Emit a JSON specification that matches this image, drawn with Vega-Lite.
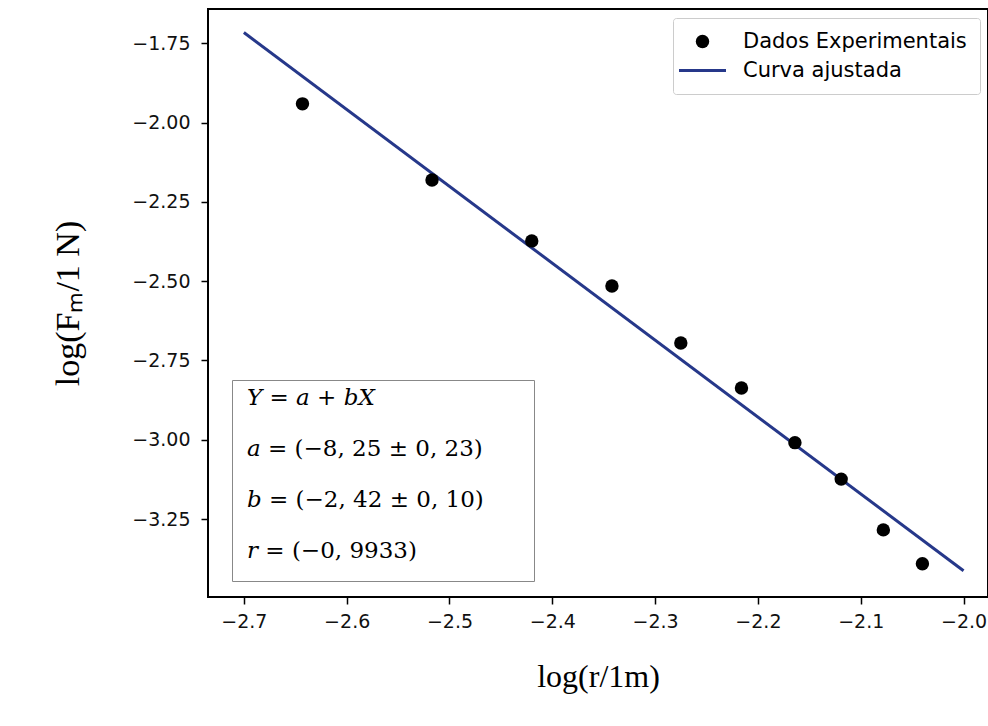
{
  "$schema": "https://vega.github.io/schema/vega-lite/v6.json",
  "width": 780,
  "height": 588,
  "autosize": {"type": "none"},
  "padding": {"left": 208, "top": 9, "right": 0, "bottom": 129},
  "background": "white",
  "config": {
    "view": {"stroke": "black", "strokeWidth": 2},
    "axis": {
      "domain": false,
      "grid": false,
      "tickColor": "black",
      "tickSize": 7,
      "tickWidth": 1.5,
      "labelFont": "DejaVu Sans",
      "labelFontSize": 19,
      "labelColor": "#111111",
      "titleFont": "Liberation Serif",
      "titleFontSize": 32,
      "titleFontWeight": "normal",
      "titleColor": "black"
    }
  },
  "layer": [
    {
      "data": {"values": [
        {"X": -2.7, "Y": -1.716, "series": "Curva ajustada"},
        {"X": -2.0, "Y": -3.413, "series": "Curva ajustada"}
      ]},
      "mark": {"type": "line", "strokeWidth": 3},
      "encoding": {
        "x": {"field": "X", "type": "quantitative",
              "scale": {"domain": [-2.7349, -1.9762], "nice": false, "zero": false},
              "axis": {"values": [-2.7, -2.6, -2.5, -2.4, -2.3, -2.2, -2.1, -2.0], "format": ".1f",
                       "labelPadding": 8, "title": "log(r/1m)", "titlePadding": 30}},
        "y": {"field": "Y", "type": "quantitative",
              "scale": {"domain": [-3.4956, -1.642], "nice": false, "zero": false},
              "axis": {"values": [-1.75, -2.0, -2.25, -2.5, -2.75, -3.0, -3.25], "format": ".2f",
                       "labelPadding": 11, "title": "log(Fₘ/1 N)", "titleFontSize": 34, "titlePadding": 46}},
        "color": {"field": "series", "type": "nominal",
                  "scale": {"domain": ["Dados Experimentais", "Curva ajustada"], "range": ["black", "#26388a"]},
                  "legend": {
                    "title": null, "orient": "none", "legendX": 465, "legendY": 9,
                    "padding": 13, "strokeColor": "#cccccc", "fillColor": "white", "cornerRadius": 3,
                    "labelFont": "DejaVu Sans", "labelFontSize": 21, "labelColor": "black", "labelLimit": 400,
                    "symbolSize": 2209, "symbolOffset": 6, "labelOffset": 30, "rowPadding": 7,
                    "encode": {"symbols": {"update": {
                      "shape": {"signal": "datum.value === 'Curva ajustada' ? 'stroke' : 'circle'"},
                      "size": {"signal": "datum.value === 'Curva ajustada' ? 2209 : 180"},
                      "stroke": {"signal": "datum.value === 'Curva ajustada' ? '#26388a' : 'black'"},
                      "strokeWidth": {"signal": "datum.value === 'Curva ajustada' ? 3 : 0"},
                      "fill": {"signal": "datum.value === 'Curva ajustada' ? 'transparent' : 'black'"},
                      "opacity": {"value": 1}
                    }}}
                  }}
      }
    },
    {
      "data": {"values": [
        {"X": -2.643, "Y": -1.941, "series": "Dados Experimentais"},
        {"X": -2.517, "Y": -2.181, "series": "Dados Experimentais"},
        {"X": -2.420, "Y": -2.373, "series": "Dados Experimentais"},
        {"X": -2.342, "Y": -2.515, "series": "Dados Experimentais"},
        {"X": -2.275, "Y": -2.695, "series": "Dados Experimentais"},
        {"X": -2.216, "Y": -2.837, "series": "Dados Experimentais"},
        {"X": -2.164, "Y": -3.009, "series": "Dados Experimentais"},
        {"X": -2.119, "Y": -3.124, "series": "Dados Experimentais"},
        {"X": -2.078, "Y": -3.284, "series": "Dados Experimentais"},
        {"X": -2.040, "Y": -3.391, "series": "Dados Experimentais"}
      ]},
      "mark": {"type": "point", "filled": true, "size": 180, "opacity": 1},
      "encoding": {
        "x": {"field": "X", "type": "quantitative"},
        "y": {"field": "Y", "type": "quantitative"},
        "color": {"field": "series", "type": "nominal"}
      }
    },
    {
      "data": {"values": [
        {"stat": "𝑌 = 𝑎 + 𝑏𝑋"},
        {"stat": "𝑎 = (−8, 25 ± 0, 23)"},
        {"stat": "𝑏 = (−2, 42 ± 0, 10)"},
        {"stat": "𝑟 = (−0, 9933)"}
      ]},
      "mark": {"type": "point", "opacity": 0},
      "encoding": {
        "shape": {"field": "stat", "type": "nominal",
                  "scale": {"domain": ["𝑌 = 𝑎 + 𝑏𝑋", "𝑎 = (−8, 25 ± 0, 23)", "𝑏 = (−2, 42 ± 0, 10)", "𝑟 = (−0, 9933)"],
                            "range": ["circle", "circle", "circle", "circle"]},
                  "legend": {
                    "title": "⠀⠀⠀⠀⠀⠀⠀⠀⠀⠀⠀⠀⠀⠀⠀⠀⠀⠀⠀⠀⠀⠀⠀⠀⠀⠀⠀⠀⠀⠀⠀⠀⠀⠀⠀⠀⠀",
                    "titleOrient": "bottom", "titleFont": "DejaVu Sans", "titleFontSize": 10, "titlePadding": 2, "titleLimit": 600,
                    "orient": "none", "legendX": 24, "legendY": 371,
                    "padding": 6, "strokeColor": "#888888", "fillColor": "white",
                    "labelFont": "DejaVu Serif", "labelFontSize": 23, "labelColor": "black",
                    "labelLimit": 500, "symbolSize": 1, "symbolOpacity": 0, "labelOffset": -14, "rowPadding": 27
                  }}
      }
    }
  ]
}
